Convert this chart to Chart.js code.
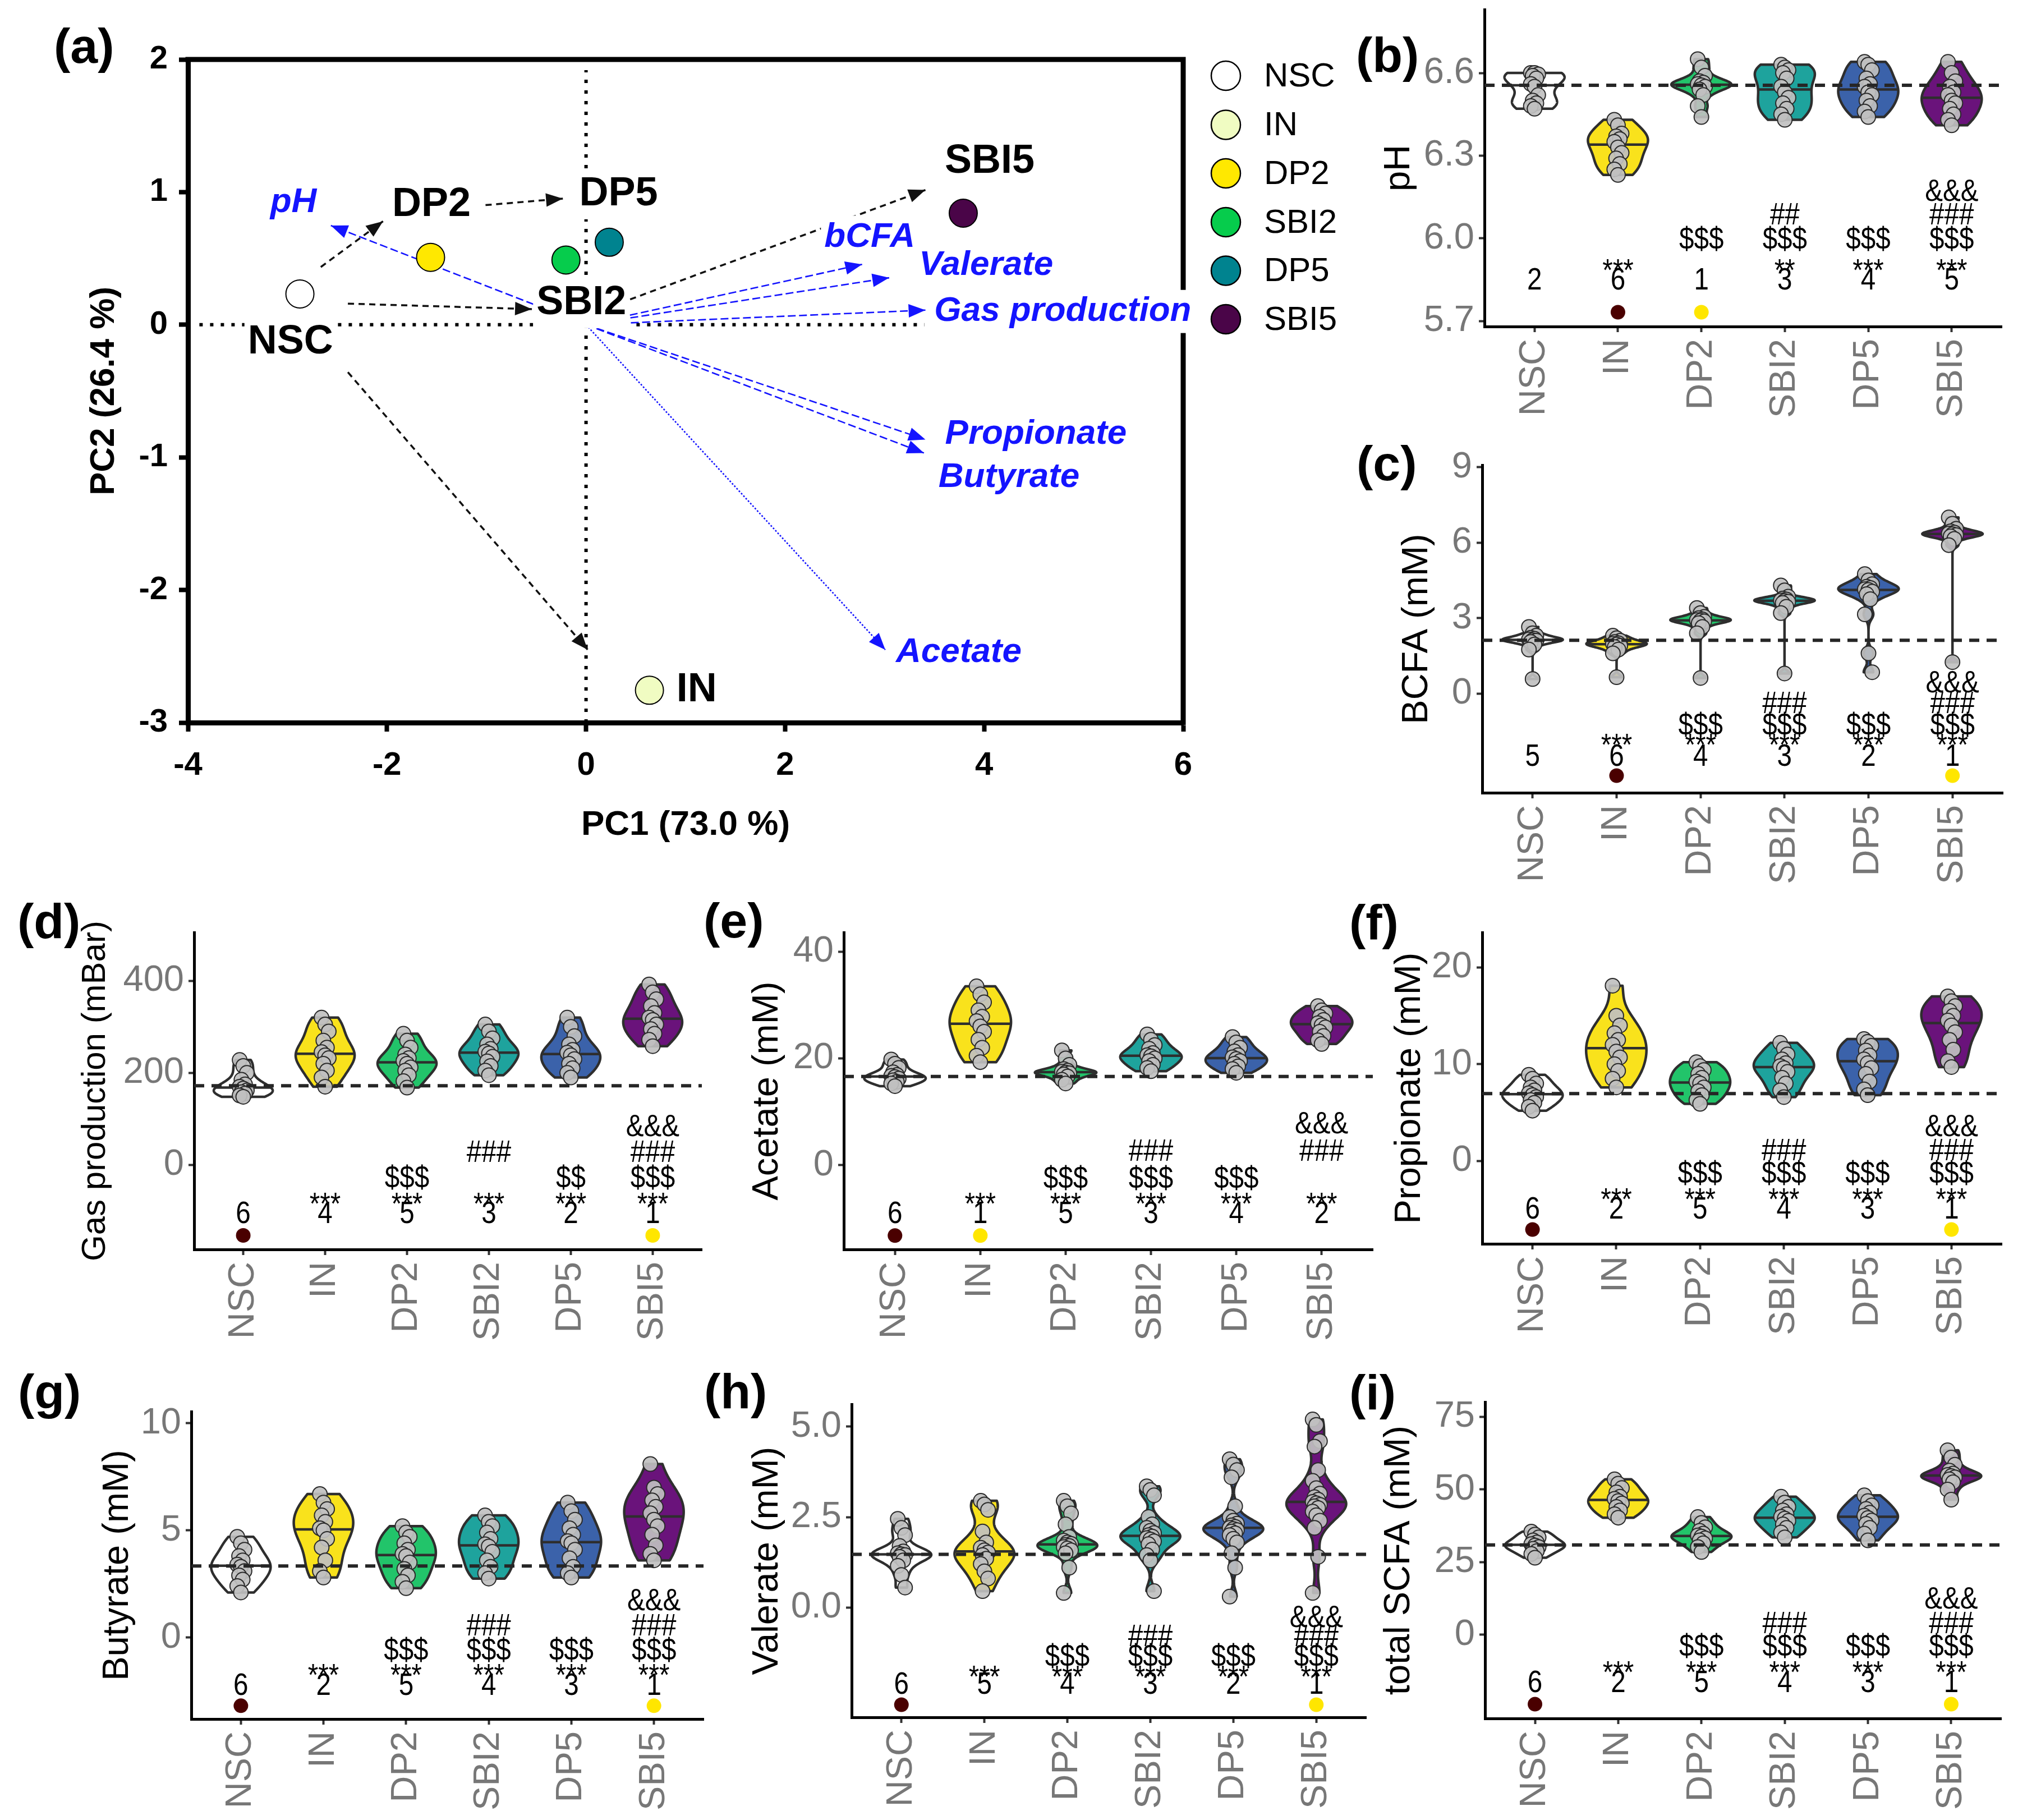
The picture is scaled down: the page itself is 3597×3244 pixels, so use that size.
<!DOCTYPE html>
<html><head><meta charset="utf-8">
<script src="https://cdn.jsdelivr.net/npm/chart.js@4.4.1/dist/chart.umd.min.js"></script>
<style>
html,body{margin:0;padding:0;background:#fff;}
body{width:3597px;height:3244px;position:relative;overflow:hidden;}
.pn{position:absolute;}
canvas{display:block;}
</style></head><body>
<script>
// ======================= DATA =======================
const groups = ['NSC','IN','DP2','SBI2','DP5','SBI5'];

// ---- (a) PCA biplot ----
const pcaX = [-2.875, 0.637, -1.562, -0.202, 0.233, 3.79];
const pcaY = [0.232, -2.756, 0.508, 0.488, 0.622, 0.841];
const pcaColors = ['#ffffff','#f0fcc2','#ffe800','#06cc4c','#00838f','#4a0548'];
const pcaXTicks = [-4,-2,0,2,4,6];
const pcaYTicks = [-3,-2,-1,0,1,2];
const loadNames = ['pH','bCFA','Valerate','Gas production','Propionate','Butyrate','Acetate'];
const loadX = [-2.564, 2.774, 3.046, 3.41, 3.41, 3.395, 3.007];
const loadY = [0.748, 0.455, 0.354, 0.11, -0.866, -0.967, -2.451];
// trajectory arrows between treatments (NSC->DP2, DP2->DP5, NSC->SBI2, SBI2->SBI5, NSC->IN)
const trajX1 = [-2.665, -1.01, -2.393, 0.443, -2.393];
const trajY1 = [0.435, 0.902, 0.159, 0.191, -0.358];
const trajX2 = [-2.04, -0.233, -0.544, 3.41, 0.0155];
const trajY2 = [0.78, 0.951, 0.118, 1.016, -2.45];
const zeroH = [-3.885, 3.40];   // extent of dotted y=0 line
const zeroV = [-3.0, 1.92];     // extent of dotted x=0 line

// ---- violin panels: observations per group, group order as `groups` ----
const phVals = [
  [6.60,6.60,6.595,6.59,6.58,6.56,6.55,6.52,6.50,6.49,6.48,6.47],
  [6.43,6.41,6.38,6.37,6.36,6.35,6.33,6.31,6.29,6.27,6.25,6.23],
  [6.65,6.62,6.59,6.57,6.565,6.56,6.555,6.55,6.54,6.52,6.48,6.44],
  [6.63,6.62,6.61,6.60,6.58,6.55,6.53,6.51,6.49,6.47,6.45,6.43],
  [6.64,6.63,6.61,6.58,6.56,6.55,6.53,6.52,6.50,6.48,6.46,6.44],
  [6.64,6.60,6.57,6.55,6.53,6.52,6.50,6.49,6.47,6.45,6.43,6.41]];
const bcfaVals = [
  [2.65,2.4,2.3,2.22,2.18,2.15,2.12,2.1,2.05,1.95,1.75,0.58],
  [2.3,2.2,2.1,2.05,2.0,1.98,1.95,1.9,1.85,1.75,1.6,0.65],
  [3.4,3.2,3.05,3.0,2.95,2.92,2.9,2.87,2.8,2.65,2.4,0.62],
  [4.3,4.1,3.85,3.78,3.74,3.7,3.68,3.65,3.6,3.45,3.2,0.8],
  [4.75,4.5,4.35,4.25,4.2,4.15,4.12,4.05,3.95,3.75,3.15,1.6,0.85],
  [7.0,6.75,6.55,6.45,6.4,6.36,6.33,6.3,6.25,6.15,5.9,1.25]];
const gasVals = [
  [228,215,200,185,175,170,166,162,158,155,151,148],
  [320,305,290,270,255,245,238,232,220,205,190,170],
  [285,270,255,240,232,226,220,212,205,195,182,168],
  [305,290,275,262,252,246,242,235,225,215,205,195],
  [320,300,280,262,250,244,238,230,220,210,200,190],
  [392,375,360,345,330,320,315,305,295,285,272,258]];
const aceVals = [
  [19.8,19.0,18.2,17.4,16.9,16.7,16.5,16.2,15.9,15.6,15.3,14.8],
  [33.5,32,30.5,29,27.8,27,26,25,23.5,22,20.5,19.3],
  [21.5,20.0,18.8,18.0,17.7,17.5,17.35,17.2,17.0,16.6,16.0,15.3],
  [24.5,23.5,22.5,21.8,21.0,20.6,20.4,20.0,19.5,18.8,18.2,17.6],
  [24.0,23.0,22.0,21.3,20.6,20.2,19.9,19.5,19.0,18.5,18.0,17.3],
  [29.8,29.0,28.4,27.8,27.2,26.6,26.2,25.8,25.0,24.2,23.4,22.7]];
const proVals = [
  [8.9,8.5,8.0,7.6,7.3,7.0,6.8,6.6,6.3,6.0,5.6,5.2],
  [18.1,15.0,14.0,13.2,12.5,12.0,11.3,10.7,10.0,9.3,8.5,7.6],
  [10.2,9.8,9.4,9.0,8.6,8.2,8.0,7.6,7.2,6.8,6.3,5.9],
  [12.2,11.6,11.0,10.5,10.1,9.8,9.6,9.2,8.6,8.0,7.3,6.6],
  [12.6,12.3,11.9,11.4,10.9,10.5,10.1,9.6,9.0,8.2,7.4,6.8],
  [17.0,16.5,16.0,15.5,15.0,14.5,14.0,13.3,12.5,11.5,10.3,9.7]];
const butVals = [
  [4.7,4.4,4.1,3.8,3.6,3.4,3.3,3.1,2.9,2.7,2.4,2.1],
  [6.7,6.3,6.0,5.7,5.4,5.1,5.0,4.6,4.2,3.6,3.1,2.8],
  [5.2,4.9,4.7,4.4,4.1,3.9,3.8,3.5,3.2,2.9,2.6,2.3],
  [5.7,5.4,5.2,4.9,4.6,4.35,4.25,4.0,3.6,3.3,3.0,2.75],
  [6.3,5.9,5.5,5.1,4.8,4.5,4.4,4.1,3.7,3.3,3.0,2.8],
  [8.1,7.0,6.7,6.4,6.1,5.8,5.5,5.2,4.8,4.3,3.9,3.6]];
const valVals = [
  [2.45,2.2,2.0,1.7,1.55,1.5,1.47,1.45,1.4,1.3,1.15,0.9,0.55],
  [2.95,2.85,2.7,2.1,1.8,1.65,1.58,1.52,1.45,1.35,1.2,1.0,0.8,0.45],
  [2.95,2.8,2.6,2.3,1.95,1.85,1.8,1.76,1.73,1.7,1.67,1.63,1.58,1.5,1.1,0.4],
  [3.35,3.25,3.1,2.5,2.3,2.2,2.12,2.06,2.0,1.96,1.92,1.88,1.83,1.75,1.6,1.45,1.3,0.45],
  [4.1,3.95,3.8,3.6,2.8,2.5,2.4,2.32,2.27,2.23,2.2,2.17,2.14,2.1,2.05,2.0,1.9,1.8,1.5,1.1,0.3],
  [5.2,5.05,4.6,4.45,3.8,3.5,3.3,3.15,3.05,2.98,2.92,2.88,2.84,2.8,2.75,2.65,2.55,2.4,2.2,1.4,0.4]];
const scfaVals = [
  [35.5,34.5,33.5,32.5,31.8,31.2,30.7,30.2,29.6,28.8,27.8,26.5],
  [53.5,52,50.5,49,47.5,46.8,46.0,45.2,44.0,42.8,41.5,40.3],
  [40.5,38.5,37,35.8,34.8,34.2,33.8,33.2,32.5,31.5,30.2,28.5],
  [47.5,45.5,44.0,42.8,41.5,40.6,40.0,39.2,38.0,36.8,35.2,33.5],
  [48,46,44.5,43.3,42.0,41.0,40.2,39.3,38.2,36.8,34.8,32.5],
  [63.5,61,58.5,56.5,55.5,55,54.6,54.2,53.5,52.5,50,46.5]];

// NSC reference level (dashed line) per panel
const refLines = {b:6.555, c:2.12, d:172, e:16.6, f:6.96, g:3.34, h:1.47, i:30.9};

// rank of each group (1 = highest)
const rankB = [2,6,1,3,4,5];
const rankC = [5,6,4,3,2,1];
const rankD = [6,4,5,3,2,1];
const rankE = [6,1,5,3,4,2];
const rankF = [6,2,5,4,3,1];
const rankG = [6,2,5,4,3,1];
const rankH = [6,5,4,3,2,1];
const rankI = [6,2,5,4,3,1];

// significance marks: [stars, dollars, hashes, ampersands] per group
const sigB = [['','','',''],['***','','',''],['','$$$','',''],['**','$$$','##',''],['***','$$$','',''],['***','$$$','###','&&&']];
const sigC = [['','','',''],['***','','',''],['***','$$$','',''],['***','$$$','###',''],['***','$$$','',''],['***','$$$','###','&&&']];
const sigD = [['','','',''],['***','','',''],['***','$$$','',''],['***','','###',''],['***','$$','',''],['***','$$$','###','&&&']];
const sigE = [['','','',''],['***','','',''],['***','$$$','',''],['***','$$$','###',''],['***','$$$','',''],['***','','###','&&&']];
const sigF = [['','','',''],['***','','',''],['***','$$$','',''],['***','$$$','###',''],['***','$$$','',''],['***','$$$','###','&&&']];
const sigG = sigF, sigH = sigF, sigI = sigF;

// y-axis ticks
const ticksB = [5.7,6.0,6.3,6.6], tickLabB = ['5.7','6.0','6.3','6.6'];
const ticksC = [0,3,6,9],        tickLabC = ['0','3','6','9'];
const ticksD = [0,200,400],      tickLabD = ['0','200','400'];
const ticksE = [0,20,40],        tickLabE = ['0','20','40'];
const ticksF = [0,10,20],        tickLabF = ['0','10','20'];
const ticksG = [0,5,10],         tickLabG = ['0','5','10'];
const ticksH = [0,2.5,5],        tickLabH = ['0.0','2.5','5.0'];
const ticksI = [0,25,50,75],     tickLabI = ['0','25','50','75'];

// ======================= STYLE / LAYOUT =======================
const FONT = '"Liberation Sans", Arial, Helvetica, sans-serif';
const GRAY = '#777777';
const violinFill = ['#ffffff','#f9e21c','#22c46a','#1ea39d','#3b62aa','#6a137b'];

const panels = [
 {id:'b', vals:phVals, ranks:rankB, sig:sigB, ref:refLines.b, ticks:ticksB, tl:tickLabB, title:'pH', ts:65, ymin:5.68, ymax:6.83,
  box:{L:2410,T:0,R:3597,B:775,AL:2646,AR:3568,AT:17,AB:582}, tx:2494, lab:[2417,104],
  ann:{dot:5.732, rank:5.856, star:5.911, dol:6.0, hash:6.09, amp:6.177}},
 {id:'c', vals:bcfaVals, ranks:rankC, sig:sigC, ref:refLines.c, ticks:ticksC, tl:tickLabC, title:'BCFA (mM)', ts:65, ymin:-3.94, ymax:9.08,
  box:{L:2410,T:780,R:3597,B:1610,AL:2642,AR:3570,AT:829,AB:1413}, tx:2526, lab:[2418,832],
  ann:{dot:-3.26, rank:-2.43, star:-1.74, dol:-1.21, hash:-0.33, amp:0.50}},
 {id:'d', vals:gasVals, ranks:rankD, sig:sigD, ref:refLines.d, ticks:ticksD, tl:tickLabD, title:'Gas production (mBar)', ts:60, ymin:-183.5, ymax:505,
  box:{L:25,T:1580,R:1300,B:2420,AL:346,AR:1251,AT:1662,AB:2227}, tx:170, lab:[31,1648],
  ann:{dot:-153, rank:-102, star:-67.7, dol:-26, hash:31, amp:87}},
 {id:'e', vals:aceVals, ranks:rankE, sig:sigE, ref:refLines.e, ticks:ticksE, tl:tickLabE, title:'Acetate (mM)', ts:65, ymin:-15.8, ymax:43.6,
  box:{L:1248,T:1580,R:2470,B:2420,AL:1504,AR:2447,AT:1662,AB:2227}, tx:1368, lab:[1254,1647],
  ann:{dot:-13.2, rank:-8.8, star:-5.83, dol:-2.26, hash:2.94, amp:8.03}},
 {id:'f', vals:proVals, ranks:rankF, sig:sigF, ref:refLines.f, ticks:ticksF, tl:tickLabF, title:'Propionate (mM)', ts:65, ymin:-8.55, ymax:23.6,
  box:{L:2398,T:1580,R:3597,B:2420,AL:2642,AR:3568,AT:1662,AB:2217}, tx:2513, lab:[2405,1650],
  ann:{dot:-7.07, rank:-4.81, star:-3.19, dol:-1.16, hash:1.25, amp:3.75}},
 {id:'g', vals:butVals, ranks:rankG, sig:sigG, ref:refLines.g, ticks:ticksG, tl:tickLabG, title:'Butyrate (mM)', ts:65, ymin:-3.81, ymax:10.55,
  box:{L:25,T:2420,R:1300,B:3244,AL:341,AR:1254,AT:2516,AB:3064},  tx:210, lab:[32,2487],
  ann:{dot:-3.19, rank:-2.15, star:-1.39, dol:-0.55, hash:0.62, amp:1.79}},
 {id:'h', vals:valVals, ranks:rankH, sig:sigH, ref:refLines.h, ticks:ticksH, tl:tickLabH, title:'Valerate (mM)', ts:65, ymin:-3.04, ymax:5.62,
  box:{L:1250,T:2420,R:2470,B:3244,AL:1518,AR:2435,AT:2503,AB:3061}, tx:1368, lab:[1255,2486],
  ann:{dot:-2.69, rank:-2.07, star:-1.70, dol:-1.32, hash:-0.76, amp:-0.23}},
 {id:'i', vals:scfaVals, ranks:rankI, sig:sigI, ref:refLines.i, ticks:ticksI, tl:tickLabI, title:'total SCFA (mM)', ts:65, ymin:-28.8, ymax:80.1,
  box:{L:2398,T:2420,R:3597,B:3244,AL:2647,AR:3567,AT:2499,AB:3063}, tx:2494, lab:[2405,2488],
  ann:{dot:-23.9, rank:-15.8, star:-10.2, dol:-3.55, hash:4.3, amp:13.0}}
];

// ======================= HELPERS =======================
function makeCanvas(L,T,W,H){
  const div=document.createElement('div'); div.className='pn';
  div.style.left=L+'px'; div.style.top=T+'px'; div.style.width=W+'px'; div.style.height=H+'px';
  const cv=document.createElement('canvas'); cv.width=W; cv.height=H; cv.style.width=W+'px'; cv.style.height=H+'px';
  div.appendChild(cv); document.body.appendChild(div); return cv;
}
function jit(i){ return ((i*7)%5-2)*0.022; }
function kde(vals){
  const n=vals.length, s=[...vals].sort((a,b)=>a-b);
  const mean=s.reduce((a,b)=>a+b,0)/n;
  const sd=Math.sqrt(s.reduce((a,b)=>a+(b-mean)*(b-mean),0)/(n-1));
  const q=p=>{const h=(n-1)*p, lo=Math.floor(h); return s[lo]+(h-lo)*(s[Math.min(lo+1,n-1)]-s[lo]);};
  let sc=Math.min(sd,(q(0.75)-q(0.25))/1.34); if(!(sc>0)) sc=sd||1;
  const bw=0.9*sc*Math.pow(n,-0.2);
  const N=240, ys=[], ds=[];
  for(let i=0;i<=N;i++){
    const y=s[0]+(s[n-1]-s[0])*i/N; let d=0;
    for(const v of s){const z=(y-v)/bw; d+=Math.exp(-0.5*z*z);}
    ys.push(y); ds.push(d/(n*bw*Math.sqrt(2*Math.PI)));
  }
  return {ys,ds,median:q(0.5),min:s[0],max:s[n-1]};
}
function narrowText(ctx,t,x,y,sx){ctx.save();ctx.translate(x,y);ctx.scale(sx,1);ctx.fillText(t,0,0);ctx.restore();}
function panelLabel(ctx,txt,x,cy){
  ctx.save(); ctx.fillStyle='#000'; ctx.font='bold 88px '+FONT; ctx.textAlign='left'; ctx.textBaseline='alphabetic';
  ctx.fillText(txt,x,cy+0.27*88); ctx.restore();
}

// ======================= VIOLIN PANELS =======================
function makeViolin(p){
  const b=p.box, W=b.R-b.L, H=b.B-b.T;
  const cv=makeCanvas(b.L,b.T,W,H);
  const pts=[]; p.vals.forEach((arr,g)=>arr.forEach((v,i)=>pts.push({x:g+jit(i),y:v})));
  const r1=p.ranks.indexOf(1), r6=p.ranks.indexOf(6);
  const violinPlugin={
    id:'violin'+p.id,
    beforeDatasetsDraw(chart){
      const ctx=chart.ctx, xs=chart.scales.x, ys=chart.scales.y;
      p.vals.forEach((arr,g)=>{
        const k=kde(arr), md=Math.max(...k.ds), half=0.36;
        ctx.save(); ctx.beginPath();
        for(let i=0;i<k.ys.length;i++){const w=half*k.ds[i]/md; const X=xs.getPixelForValue(g-w), Y=ys.getPixelForValue(k.ys[i]); if(i===0) ctx.moveTo(X,Y); else ctx.lineTo(X,Y);}
        for(let i=k.ys.length-1;i>=0;i--){const w=half*k.ds[i]/md; ctx.lineTo(xs.getPixelForValue(g+w), ys.getPixelForValue(k.ys[i]));}
        ctx.closePath(); ctx.fillStyle=violinFill[g]; ctx.fill();
        ctx.lineWidth=4.5; ctx.strokeStyle='#2e2e2e'; ctx.lineJoin='round'; ctx.stroke();
        // median line
        let j=0; while(j<k.ys.length-1 && k.ys[j+1]<k.median) j++;
        const t=(k.median-k.ys[j])/((k.ys[j+1]-k.ys[j])||1);
        const dm=k.ds[j]+t*((k.ds[j+1]||k.ds[j])-k.ds[j]); const wm=half*dm/md;
        const Ym=ys.getPixelForValue(k.median);
        ctx.beginPath(); ctx.moveTo(xs.getPixelForValue(g-wm),Ym); ctx.lineTo(xs.getPixelForValue(g+wm),Ym);
        ctx.lineWidth=4.5; ctx.stroke(); ctx.restore();
      });
    },
    afterDraw(chart){
      const ctx=chart.ctx, xs=chart.scales.x, ys=chart.scales.y, fs=56, sx=0.85;
      ctx.save(); ctx.fillStyle='#000'; ctx.textAlign='center'; ctx.textBaseline='alphabetic';
      ctx.font=fs+'px '+FONT;
      groups.forEach((g,i)=>{
        const x=xs.getPixelForValue(i);
        narrowText(ctx,String(p.ranks[i]),x,ys.getPixelForValue(p.ann.rank)+0.358*fs,sx);
        const sg=p.sig[i];
        if(sg[0]) narrowText(ctx,sg[0],x,ys.getPixelForValue(p.ann.star)+0.57*fs,sx);
        if(sg[1]) narrowText(ctx,sg[1],x,ys.getPixelForValue(p.ann.dol)+0.35*fs,sx);
        if(sg[2]) narrowText(ctx,sg[2],x,ys.getPixelForValue(p.ann.hash)+0.355*fs,sx);
        if(sg[3]) narrowText(ctx,sg[3],x,ys.getPixelForValue(p.ann.amp)+0.36*fs,sx);
      });
      ctx.restore();
      panelLabel(ctx,'('+p.id+')',p.lab[0]-b.L,p.lab[1]-b.T);
    }
  };
  new Chart(cv,{
    type:'scatter',
    data:{datasets:[
      {label:'ref',data:[{x:-0.6,y:p.ref},{x:5.6,y:p.ref}],showLine:true,borderColor:'#262626',borderWidth:6,borderDash:[18,13],pointRadius:0,order:0},
      {label:'obs',data:pts,pointRadius:13,pointBackgroundColor:'rgba(192,192,192,0.92)',pointBorderColor:'#2a2a2a',pointBorderWidth:2,order:1},
      {label:'rank',data:[{x:r6,y:p.ann.dot},{x:r1,y:p.ann.dot}],pointRadius:13,pointBackgroundColor:['#4a0000','#ffe600'],pointBorderWidth:0,order:2}
    ]},
    options:{
      responsive:false, animation:false, devicePixelRatio:1, events:[],
      layout:{padding:{left:0,top:b.AT-b.T,right:b.R-b.AR,bottom:0}},
      plugins:{legend:{display:false},tooltip:{enabled:false}},
      scales:{
        x:{type:'linear',min:-0.6,max:5.6,
          afterBuildTicks:s=>{s.ticks=groups.map((g,i)=>({value:i}));},
          afterFit:s=>{s.height=b.B-b.AB; s.paddingLeft=0; s.paddingRight=0;},
          ticks:{autoSkip:false,minRotation:90,maxRotation:90,color:GRAY,font:{family:FONT,size:65},padding:12,callback:(v,i)=>groups[i]},
          grid:{drawOnChartArea:false,drawTicks:true,tickLength:10,tickWidth:4,tickColor:'#333'},
          border:{display:true,color:'#000',width:5}},
        y:{type:'linear',min:p.ymin,max:p.ymax,
          afterBuildTicks:s=>{s.ticks=p.ticks.map(v=>({value:v}));},
          afterFit:s=>{s.width=b.AL-b.L; s.paddingTop=0; s.paddingBottom=0;},
          ticks:{color:GRAY,font:{family:FONT,size:65},padding:8,callback:(v,i)=>p.tl[i]},
          grid:{drawOnChartArea:false,drawTicks:true,tickLength:10,tickWidth:4,tickColor:'#333'},
          border:{display:true,color:'#000',width:5},
          title:{display:true,text:p.title,color:'#000',font:{family:FONT,size:p.ts},padding:{top:p.tx-b.L-p.ts*0.6,bottom:0}}}
      }
    },
    plugins:[violinPlugin]
  });
}

// ======================= PCA PANEL (a) =======================
function arrowHead(ctx,x1,y1,x2,y2,len,hw,color){
  const a=Math.atan2(y2-y1,x2-x1);
  ctx.save(); ctx.fillStyle=color; ctx.beginPath();
  ctx.moveTo(x2,y2);
  ctx.lineTo(x2-len*Math.cos(a)+hw*Math.sin(a), y2-len*Math.sin(a)-hw*Math.cos(a));
  ctx.lineTo(x2-len*Math.cos(a)-hw*Math.sin(a), y2-len*Math.sin(a)+hw*Math.cos(a));
  ctx.closePath(); ctx.fill(); ctx.restore();
}
function boxLabel(ctx,txt,x,y,font,color,align){
  ctx.save(); ctx.font=font; ctx.textBaseline='middle'; ctx.textAlign=align||'center';
  const w=ctx.measureText(txt).width, fs=parseFloat(font.match(/(\d+)px/)[1]);
  const x0 = align==='left'? x-6 : x-w/2-6;
  ctx.fillStyle='#fff'; ctx.fillRect(x0,y-0.62*fs,w+12,1.24*fs);
  ctx.fillStyle=color; ctx.fillText(txt,x,y); ctx.restore();
}
function makePCA(){
  const W=2420,H=1560, AL=335, AT=106, AR=2109, AB=1288;
  const cv=makeCanvas(0,0,W,H);
  const ds=[];
  ds.push({data:[{x:zeroH[0],y:0},{x:zeroH[1],y:0}],showLine:true,borderColor:'#000',borderWidth:6,borderDash:[6,13],pointRadius:0,order:6});
  ds.push({data:[{x:0,y:zeroV[0]},{x:0,y:zeroV[1]}],showLine:true,borderColor:'#000',borderWidth:6,borderDash:[6,13],pointRadius:0,order:6});
  for(let k=0;k<trajX1.length;k++)
    ds.push({data:[{x:trajX1[k],y:trajY1[k]},{x:trajX2[k],y:trajY2[k]}],showLine:true,borderColor:'#111',borderWidth:3.5,borderDash:[11,8],pointRadius:0,order:4});
  for(let k=0;k<loadX.length;k++)
    ds.push({data:[{x:0,y:0},{x:loadX[k],y:loadY[k]}],showLine:true,borderColor:'#1414ff',borderWidth:2.6,borderDash:loadNames[k]==='Acetate'?[3,3]:[14,6],pointRadius:0,order:3});
  ds.push({data:pcaX.map((x,i)=>({x,y:pcaY[i]})),pointRadius:25,pointBackgroundColor:pcaColors,pointBorderColor:'#000',pointBorderWidth:2,order:0});

  const grpLab = [ // label positions (data units) for groups
    ['NSC',-2.97,-0.134,'center'],['IN',0.909,-2.756,'left'],['DP2',-1.554,0.902,'center'],
    ['SBI2',-0.047,0.163,'center'],['DP5',0.326,0.984,'center'],['SBI5',4.056,1.228,'center']];
  const loadLab = [[-2.94,0.923],[2.85,0.66],[4.02,0.447],[4.79,0.10],[4.52,-0.825],[4.25,-1.15],[3.745,-2.47]];
  const legY=[135,222.5,309,396,482.5,569];

  const plug={
    id:'pca',
    beforeDatasetsDraw(chart){
      const ctx=chart.ctx, ca=chart.chartArea;
      ctx.save(); ctx.strokeStyle='#000'; ctx.lineWidth=9; ctx.lineCap='square';
      ctx.beginPath(); ctx.moveTo(ca.left,ca.top); ctx.lineTo(ca.right,ca.top); ctx.lineTo(ca.right,ca.bottom); ctx.stroke(); ctx.restore();
    },
    afterDatasetsDraw(chart){
      const ctx=chart.ctx, xs=chart.scales.x, ys=chart.scales.y, P=(x,y)=>[xs.getPixelForValue(x),ys.getPixelForValue(y)];
      for(let k=0;k<trajX1.length;k++){const a=P(trajX1[k],trajY1[k]), c=P(trajX2[k],trajY2[k]); arrowHead(ctx,a[0],a[1],c[0],c[1],30,12,'#111');}
      for(let k=0;k<loadX.length;k++){const a=P(0,0), c=P(loadX[k],loadY[k]); arrowHead(ctx,a[0],a[1],c[0],c[1],30,12,'#1414ff');}
    },
    afterDraw(chart){
      const ctx=chart.ctx, xs=chart.scales.x, ys=chart.scales.y;
      grpLab.forEach(l=>boxLabel(ctx,l[0],xs.getPixelForValue(l[1]),ys.getPixelForValue(l[2]),'bold 72px '+FONT,'#000',l[3]));
      loadNames.forEach((n,k)=>boxLabel(ctx,n,xs.getPixelForValue(loadLab[k][0]),ys.getPixelForValue(loadLab[k][1]),'italic bold 62px '+FONT,'#1414ff','center'));
      // legend
      ctx.save();
      groups.forEach((g,i)=>{
        ctx.beginPath(); ctx.arc(2185,legY[i],26,0,Math.PI*2); ctx.fillStyle=pcaColors[i]; ctx.fill();
        ctx.lineWidth=2.5; ctx.strokeStyle='#000'; ctx.stroke();
        ctx.fillStyle='#000'; ctx.font='60px '+FONT; ctx.textAlign='left'; ctx.textBaseline='middle';
        ctx.fillText(g,2253,legY[i]+2);
      });
      ctx.restore();
      panelLabel(ctx,'(a)',96,88);
    }
  };
  new Chart(cv,{
    type:'scatter', data:{datasets:ds},
    options:{
      responsive:false, animation:false, devicePixelRatio:1, events:[],
      layout:{padding:{left:0,top:AT,right:W-AR,bottom:0}},
      plugins:{legend:{display:false},tooltip:{enabled:false}},
      scales:{
        x:{type:'linear',min:-4,max:6,
          afterBuildTicks:s=>{s.ticks=pcaXTicks.map(v=>({value:v}));},
          afterFit:s=>{s.height=H-AB; s.paddingLeft=0; s.paddingRight=0;},
          ticks:{color:'#000',font:{family:FONT,size:58,weight:'bold'},padding:26,callback:v=>String(v)},
          grid:{drawOnChartArea:false,drawTicks:true,tickLength:16,tickWidth:8,tickColor:'#000'},
          border:{display:true,color:'#000',width:9},
          title:{display:true,text:'PC1 (73.0 %)',color:'#000',font:{family:FONT,size:62,weight:'bold'},padding:{top:0,bottom:(H-1471)-62*0.6}}},
        y:{type:'linear',min:-3,max:2,
          afterBuildTicks:s=>{s.ticks=pcaYTicks.map(v=>({value:v}));},
          afterFit:s=>{s.width=AL; s.paddingTop=0; s.paddingBottom=0;},
          ticks:{color:'#000',font:{family:FONT,size:58,weight:'bold'},padding:20,callback:v=>String(v)},
          grid:{drawOnChartArea:false,drawTicks:true,tickLength:16,tickWidth:8,tickColor:'#000'},
          border:{display:true,color:'#000',width:9},
          title:{display:true,text:'PC2 (26.4 %)',color:'#000',font:{family:FONT,size:62,weight:'bold'},padding:{top:186-62*0.6,bottom:0}}}
      }
    },
    plugins:[plug]
  });
}

makePCA();
panels.forEach(makeViolin);
</script>
</body></html>
